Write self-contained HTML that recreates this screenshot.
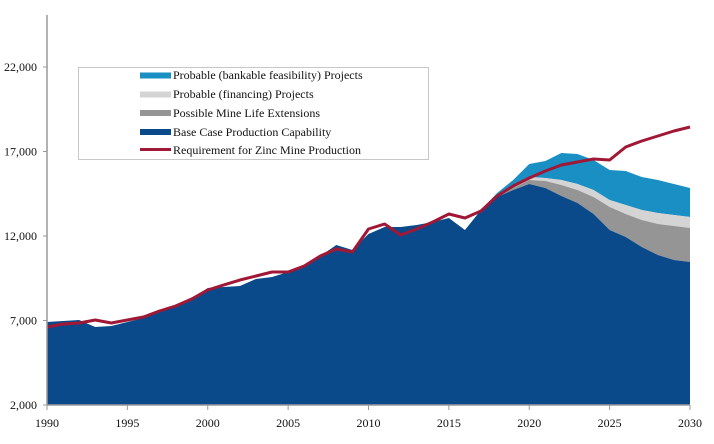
<!DOCTYPE html>
<html><head><meta charset="utf-8"><style>
html,body{margin:0;padding:0;background:#fff;}
svg{display:block;font-family:"Liberation Serif",serif;}
</style></head><body>
<svg id="chart" width="714" height="444" viewBox="0 0 714 444" xmlns="http://www.w3.org/2000/svg">
<g id="areas"></g>
<g id="line"></g>
<g id="axes"></g>
<g>
<rect x="78.5" y="67.5" width="350" height="92" fill="#fff" stroke="#c8c8c8" stroke-width="1"/>
<g><rect x="140" y="72.5" width="31" height="6" fill="#1a8fc4"/><text x="173" y="79" font-size="12" fill="#111">Probable (bankable feasibility) Projects</text></g>
<g><rect x="140" y="91.5" width="31" height="6" fill="#d4d4d4"/><text x="173" y="98" font-size="12" fill="#111">Probable (financing) Projects</text></g>
<g><rect x="140" y="110" width="31" height="6" fill="#959595"/><text x="173" y="117" font-size="12" fill="#111">Possible Mine Life Extensions</text></g>
<g><rect x="140" y="129" width="31" height="6" fill="#0b4a8a"/><text x="173" y="136" font-size="12" fill="#111">Base Case Production Capability</text></g>
<g><rect x="140" y="148" width="31" height="3" fill="#a01835"/><text x="173" y="154" font-size="12" fill="#111">Requirement for Zinc Mine Production</text></g>
</g>
</svg>
<script>
const years = [];
for (let y = 1990; y <= 2030; y++) years.push(y);
const baseCase = [6911,6970,7030,6615,6675,6911,7148,7503,7799,8213,8923,8982,9041,9456,9574,9870,10284,10817,11467,11172,12118,12533,12533,12651,12828,13065,12355,13538,14308,14722,15077,14840,14367,13953,13302,12355,11941,11349,10876,10580,10462];
const extensions = [0,0,0,0,0,0,0,0,0,0,0,0,0,0,0,0,0,0,0,0,0,0,0,0,0,0,0,0,0,118,237,414,651,769,1006,1361,1361,1598,1834,2012,2012];
const financing = [0,0,0,0,0,0,0,0,0,0,0,0,0,0,0,0,0,0,0,0,178,178,296,355,414,414,533,592,651,651,651];
while (financing.length < years.length) financing.unshift(0);
const bankable = [0,0,0,0,0,0,0,0,0,0,0,0,0,0,0,0,0,0,0,0,0,0,0,0,0,0,0,0,237,473,769,1006,1598,1775,1775,1775,2012,1953,1953,1834,1716];
const requirement = [6615,6793,6852,7030,6852,7030,7207,7562,7858,8272,8805,9101,9396,9633,9870,9870,10225,10817,11231,11053,12414,12710,12059,12414,12828,13302,13065,13479,14367,14959,15432,15846,16201,16379,16556,16497,17266,17621,17917,18213,18450];
const yTicks = [2000,7000,12000,17000,22000];
const yTickLabels = ["2,000","7,000","12,000","17,000","22,000"];
const xTicks = [1990,1995,2000,2005,2010,2015,2020,2025,2030];

const NS = "http://www.w3.org/2000/svg";
const X0 = 47, X1 = 690, Y0 = 405, Y1 = 67;
function xs(yr){ return X0 + (yr - 1990) * (X1 - X0) / 40; }
function ys(v){ return Y0 - (v - 2000) * (Y0 - Y1) / 20000; }
function mk(tag, attrs, parent){ const e = document.createElementNS(NS, tag); for (const k in attrs) e.setAttribute(k, attrs[k]); parent.appendChild(e); return e; }

const areas = document.getElementById('areas');
const series = [baseCase, extensions, financing, bankable];
const colors = ["#0b4a8a", "#959595", "#d4d4d4", "#1a8fc4"];
const names = ["area-base-case", "area-extensions", "area-financing", "area-bankable"];
let lower = years.map(() => 2000);
const layers = [];
series.forEach((s, i) => {
  const upper = lower.map((l, j) => (i === 0 ? s[j] : l + s[j]));
  layers.push({lower: lower.slice(), upper, i});
  lower = upper;
});
layers.reverse().forEach(L => {
  let d = "M" + years.map((yr, j) => xs(yr) + "," + ys(L.upper[j])).join(" L");
  for (let j = years.length - 1; j >= 0; j--) d += " L" + xs(years[j]) + "," + ys(L.i === 0 ? 2000 : L.lower[j]);
  d += " Z";
  const p = mk('path', {d, fill: colors[L.i]}, areas);
  
  
});

const lg = document.getElementById('line');
const lp = mk('polyline', {points: years.map((yr, j) => xs(yr) + "," + ys(requirement[j])).join(" "), fill: "none", stroke: "#a01835", "stroke-width": 3, "stroke-linejoin": "round"}, lg);



const ax = document.getElementById('axes');
const ya = mk('line', {x1: X0, y1: 15, x2: X0, y2: Y0, stroke: "#999", "stroke-width": 1.5}, ax);


const xa = mk('line', {x1: X0, y1: Y0, x2: X1, y2: Y0, stroke: "#999", "stroke-width": 1.5}, ax);


yTicks.forEach((v, i) => {
  mk('line', {x1: X0 - 4, y1: ys(v), x2: X0, y2: ys(v), stroke: "#999"}, ax);
  const t = mk('text', {x: 37, y: ys(v) + 4, "text-anchor": "end", "font-size": 12, fill: "#111"}, ax);
  t.textContent = yTickLabels[i];
  
  
});
xTicks.forEach(yr => {
  mk('line', {x1: xs(yr), y1: Y0, x2: xs(yr), y2: Y0 + 5, stroke: "#999"}, ax);
  const t = mk('text', {x: xs(yr), y: 427, "text-anchor": "middle", "font-size": 12, fill: "#111"}, ax);
  t.textContent = yr;
  
  
});
</script>
</body></html>
